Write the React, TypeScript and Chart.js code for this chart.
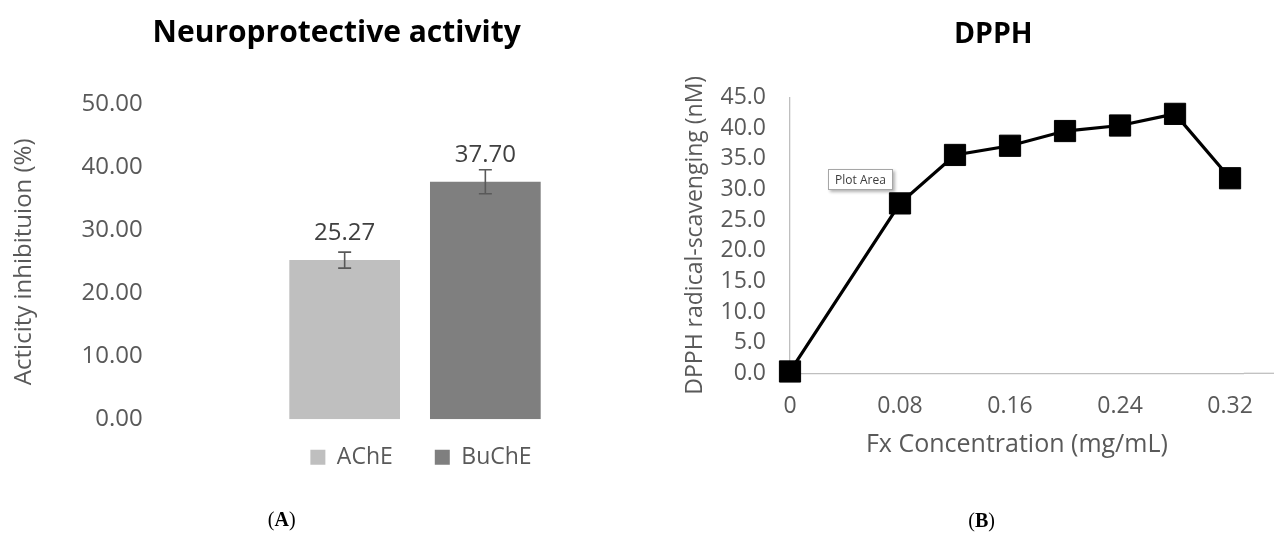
import React, { useEffect, useRef } from "react";
import { Chart, registerables } from "chart.js";

Chart.register(...registerables);

// Panel A: enzyme inhibition (one group, two series)
const ENZYMES = ["AChE", "BuChE"];
const ENZYME_COLORS = ["#BFBFBF", "#7F7F7F"];
const INHIBITION = [25.27, 37.7];
const INHIBITION_SD = [1.27, 1.9];
const INHIBITION_TICKS = [0, 10, 20, 30, 40, 50];

// Panel B: DPPH radical scavenging vs fucoxanthin concentration
const FX_CONC = [0, 0.08, 0.12, 0.16, 0.2, 0.24, 0.28, 0.32];
const DPPH_SCAVENGING = [0.3, 27.7, 35.6, 37.1, 39.5, 40.4, 42.3, 31.8];
const CONC_TICKS = [0, 0.08, 0.16, 0.24, 0.32];
const CONC_TICK_LABELS = ["0", "0.08", "0.16", "0.24", "0.32"];
const DPPH_TICKS = [0, 5, 10, 15, 20, 25, 30, 35, 40, 45];

const FONT = "'Open Sans', 'Noto Sans', sans-serif";
const AXIS_GREY = "#595959";
const AXIS_LINE = "#BFBFBF";

// Error bars drawn from each bar's value and its standard deviation
const errorBars = {
  id: "errorBars",
  afterDatasetsDraw(chart: any) {
    const { ctx } = chart;
    const y = chart.scales.y;
    ctx.save();
    ctx.strokeStyle = AXIS_GREY;
    ctx.lineWidth = 1.6;
    chart.data.datasets.forEach((ds: any, i: number) => {
      const bar = chart.getDatasetMeta(i).data[0];
      if (!bar) return;
      const v = INHIBITION[i];
      const sd = INHIBITION_SD[i];
      const top = y.getPixelForValue(v + sd);
      const bot = y.getPixelForValue(v - sd);
      const half = 6.5;
      ctx.beginPath();
      ctx.moveTo(bar.x, top);
      ctx.lineTo(bar.x, bot);
      ctx.moveTo(bar.x - half, top);
      ctx.lineTo(bar.x + half, top);
      ctx.moveTo(bar.x - half, bot);
      ctx.lineTo(bar.x + half, bot);
      ctx.stroke();
    });
    ctx.restore();
  },
};

// Value labels above each bar
const barValueLabels = {
  id: "barValueLabels",
  afterDatasetsDraw(chart: any) {
    const { ctx } = chart;
    ctx.save();
    ctx.font = `24px ${FONT}`;
    ctx.fillStyle = "#404040";
    ctx.textAlign = "center";
    ctx.textBaseline = "middle";
    chart.data.datasets.forEach((ds: any, i: number) => {
      const bar = chart.getDatasetMeta(i).data[0];
      if (!bar) return;
      ctx.fillText(Number(ds.data[0]).toFixed(2), bar.x, bar.y - 27);
    });
    ctx.restore();
  },
};

// Shifts the bottom legend box (closer to the plot, slightly to the right)
const legendShift = {
  id: "legendShift",
  afterLayout(chart: any, _args: any, opts: any) {
    const lg = chart.legend;
    if (!lg || !opts) return;
    const dx = opts.dx || 0;
    const dy = opts.dy || 0;
    lg.left += dx;
    lg.right += dx;
    lg.top += dy;
    lg.bottom += dy;
  },
};

// Carries the horizontal axis line on to the right edge of the panel
const axisRunout = {
  id: "axisRunout",
  beforeDatasetsDraw(chart: any) {
    const { ctx, chartArea } = chart;
    const x = chart.scales.x;
    ctx.save();
    ctx.strokeStyle = AXIS_LINE;
    ctx.lineWidth = 1.3;
    ctx.beginPath();
    ctx.moveTo(chartArea.right, x.top);
    ctx.lineTo(chart.width, x.top);
    ctx.stroke();
    ctx.restore();
  },
};

function InhibitionChart() {
  const ref = useRef<HTMLCanvasElement>(null);
  useEffect(() => {
    if (!ref.current) return;
    const chart = new Chart(ref.current, {
      type: "bar",
      data: {
        labels: [""],
        datasets: ENZYMES.map((name, i) => ({
          label: name,
          data: [INHIBITION[i]],
          backgroundColor: ENZYME_COLORS[i],
          borderWidth: 0,
          categoryPercentage: 0.6253,
          barPercentage: 0.7868,
        })),
      },
      options: {
        responsive: false,
        animation: false,
        layout: { autoPadding: false, padding: { top: 104.3, bottom: 39.7, left: 0, right: 0 } },
        scales: {
          x: { display: false },
          y: {
            min: 0,
            max: 50,
            afterBuildTicks: (s: any) => {
              s.ticks = INHIBITION_TICKS.map((value) => ({ value }));
            },
            afterFit: (s: any) => {
              s.width = 190;
            },
            grid: { display: false, drawTicks: false },
            border: { display: false },
            ticks: {
              autoSkip: false,
              padding: 47.3,
              color: AXIS_GREY,
              font: { family: FONT, size: 24 },
              callback: (v: any) => Number(v).toFixed(2),
            },
            title: {
              display: true,
              text: "Acticity inhibituion (%)",
              color: AXIS_GREY,
              font: { family: FONT, size: 24 },
              padding: { top: 9.6, bottom: 0 },
            },
          },
        },
        plugins: {
          title: { display: false },
          tooltip: { enabled: false },
          legend: {
            display: true,
            position: "bottom",
            fullSize: false,
            labels: {
              boxWidth: 15,
              boxHeight: 15,
              padding: 42,
              color: AXIS_GREY,
              font: { family: FONT, size: 23 },
            },
          },
          legendShift: { dx: 6, dy: -15.5 },
        } as any,
      },
      plugins: [errorBars, barValueLabels, legendShift],
    });
    return () => chart.destroy();
  }, []);
  return (
    <canvas
      ref={ref}
      width={640}
      height={534}
      style={{ position: "absolute", left: 0, top: 0, width: 640, height: 534 }}
    />
  );
}

function DpphChart() {
  const ref = useRef<HTMLCanvasElement>(null);
  useEffect(() => {
    if (!ref.current) return;
    const chart = new Chart(ref.current, {
      type: "line",
      data: {
        datasets: [
          {
            label: "DPPH",
            data: FX_CONC.map((x, i) => ({ x, y: DPPH_SCAVENGING[i] })),
            borderColor: "#000000",
            borderWidth: 3.2,
            tension: 0,
            pointStyle: "rect",
            pointRadius: 15,
            pointBackgroundColor: "#000000",
            pointBorderColor: "#000000",
            pointBorderWidth: 1,
            clip: false as any,
          },
        ],
      },
      options: {
        responsive: false,
        animation: false,
        layout: { autoPadding: false, padding: { top: 97.3, bottom: 74, left: 0, right: 30.2 } },
        scales: {
          x: {
            type: "linear",
            min: 0,
            max: 0.33,
            afterBuildTicks: (s: any) => {
              s.ticks = CONC_TICKS.map((value) => ({ value }));
            },
            afterFit: (s: any) => {
              // tick labels may run past the plot into the right margin
              s.paddingLeft = 0;
              s.paddingRight = 0;
            },
            grid: { display: false, drawTicks: false },
            border: { display: true, color: AXIS_LINE, width: 1.3 },
            ticks: {
              autoSkip: false,
              maxRotation: 0,
              padding: 19.6,
              color: AXIS_GREY,
              font: { family: FONT, size: 23 },
              callback: (v: any) => {
                const k = CONC_TICKS.findIndex((t) => Math.abs(t - Number(v)) < 1e-9);
                return k >= 0 ? CONC_TICK_LABELS[k] : "";
              },
            },
            title: {
              display: true,
              text: "Fx Concentration (mg/mL)",
              color: AXIS_GREY,
              font: { family: FONT, size: 25 },
              padding: { top: -10.1, bottom: 0 },
            },
          },
          y: {
            min: 0,
            max: 45,
            afterBuildTicks: (s: any) => {
              s.ticks = DPPH_TICKS.map((value) => ({ value }));
            },
            afterFit: (s: any) => {
              s.width = 150;
            },
            grid: { display: false, drawTicks: false },
            border: { display: true, color: AXIS_LINE, width: 1.3 },
            ticks: {
              autoSkip: false,
              padding: 24,
              color: AXIS_GREY,
              font: { family: FONT, size: 23 },
              callback: (v: any) => Number(v).toFixed(1),
            },
            title: {
              display: true,
              text: "DPPH radical-scavenging (nM)",
              color: AXIS_GREY,
              font: { family: FONT, size: 23 },
              padding: { top: 41.2, bottom: 0 },
            },
          },
        },
        plugins: {
          legend: { display: false },
          tooltip: { enabled: false },
        },
      },
      plugins: [axisRunout],
    });
    return () => chart.destroy();
  }, []);
  return (
    <canvas
      ref={ref}
      width={634}
      height={534}
      style={{ position: "absolute", left: 640, top: 0, width: 634, height: 534 }}
    />
  );
}

const centered = (cx: number, cy: number): React.CSSProperties => ({
  position: "absolute",
  left: cx,
  top: cy,
  transform: "translate(-50%, -50%)",
  whiteSpace: "nowrap",
  lineHeight: 1,
});

export default function App() {
  return (
    <div
      style={{
        position: "fixed",
        left: 0,
        top: 0,
        width: 1274,
        height: 534,
        background: "#ffffff",
        overflow: "hidden",
      }}
    >
      <InhibitionChart />
      <DpphChart />
      <div style={{ ...centered(336.7, 31), fontFamily: FONT, fontWeight: 700, fontSize: 30, color: "#000" }}>
        Neuroprotective activity
      </div>
      <div style={{ ...centered(993.3, 32), fontFamily: FONT, fontWeight: 700, fontSize: 28.5, color: "#000" }}>
        DPPH
      </div>
      <div
        style={{
          position: "absolute",
          left: 828,
          top: 169,
          width: 63,
          height: 19,
          border: "1px solid #a6a6a6",
          background: "#ffffff",
          boxShadow: "2px 2px 3px rgba(0,0,0,0.3)",
          fontFamily: FONT,
          fontSize: 12,
          color: "#3c3c3c",
          lineHeight: "19px",
          textAlign: "center",
        }}
      >
        Plot Area
      </div>
      <div style={{ ...centered(281.7, 518.5), fontFamily: "'Liberation Serif', 'Times New Roman', serif", fontSize: 20, color: "#000" }}>
        (<b>A</b>)
      </div>
      <div style={{ ...centered(981.7, 520), fontFamily: "'Liberation Serif', 'Times New Roman', serif", fontSize: 20, color: "#000" }}>
        (<b>B</b>)
      </div>
    </div>
  );
}
